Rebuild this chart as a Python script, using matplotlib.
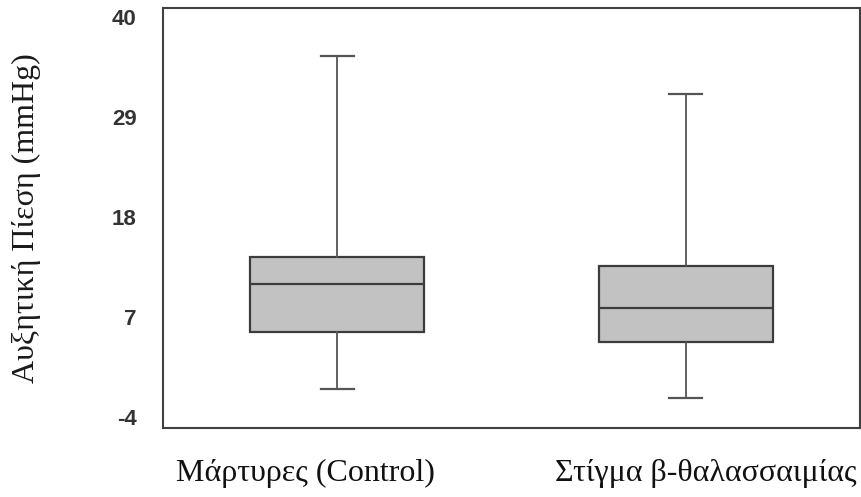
#!/usr/bin/env python3

import matplotlib
matplotlib.use('Agg')
import matplotlib.pyplot as plt
import matplotlib.transforms as mtransforms

# Δεδομένα των θηκογραμμάτων (διαβασμένα από την εικόνα)
groups = ['Μάρτυρες (Control)', 'Στίγμα β-θαλασσαιμίας']
whisker_low = [-0.9, -1.9]
q1 = [5.4, 4.3]
median = [10.6, 8.0]
q3 = [13.6, 12.6]
whisker_high = [35.7, 31.5]
yticks = [-4, 7, 18, 29, 40]
ylabel = 'Αυξητική Πίεση (mmHg)'

stats = []
for i, g in enumerate(groups):
    stats.append(dict(label=g, whislo=whisker_low[i], q1=q1[i], med=median[i],
                      q3=q3[i], whishi=whisker_high[i], fliers=[]))

fig = plt.figure(figsize=(8.61, 4.97), dpi=100)
ax = fig.add_axes([0.1893, 0.1388, 0.8095, 0.8452])

edge = '#3c3c3c'
ax.bxp(stats, positions=[1, 3], widths=1.0, patch_artist=True, showfliers=False,
       boxprops=dict(facecolor='#c2c2c2', edgecolor=edge, linewidth=1.6),
       medianprops=dict(color=edge, linewidth=1.6),
       whiskerprops=dict(color='#555555', linewidth=1.3),
       capprops=dict(color='#555555', linewidth=1.6),
       capwidths=0.19)

ax.set_xlim(0, 4)
ax.set_ylim(-5.2, 41)
ax.set_yticks(yticks)
ax.set_yticklabels([str(t) for t in yticks], fontfamily='Liberation Sans',
                   fontweight='bold', fontsize=16, color='#333333')
ax.tick_params(axis='y', length=0, pad=19)
ax.set_xticks([])
for s in ax.spines.values():
    s.set_color('#404040')
    s.set_linewidth(1.5)

ax.set_ylabel(ylabel, fontfamily='Liberation Serif', fontsize=23, color='#1a1a1a')
ax.yaxis.set_label_coords(-0.175, 0.5)

# Ετικέτες ομάδων κάτω από τον άξονα
label_x = [0.205, 0.779]
trans = mtransforms.blended_transform_factory(ax.transAxes, fig.transFigure)
for lx, g in zip(label_x, groups):
    ax.text(lx, 1 - 473 / 497, g, transform=trans, ha='center', va='center',
            fontfamily='Liberation Serif', fontsize=23, color='#111111')

fig.savefig('out.png', dpi=100)
